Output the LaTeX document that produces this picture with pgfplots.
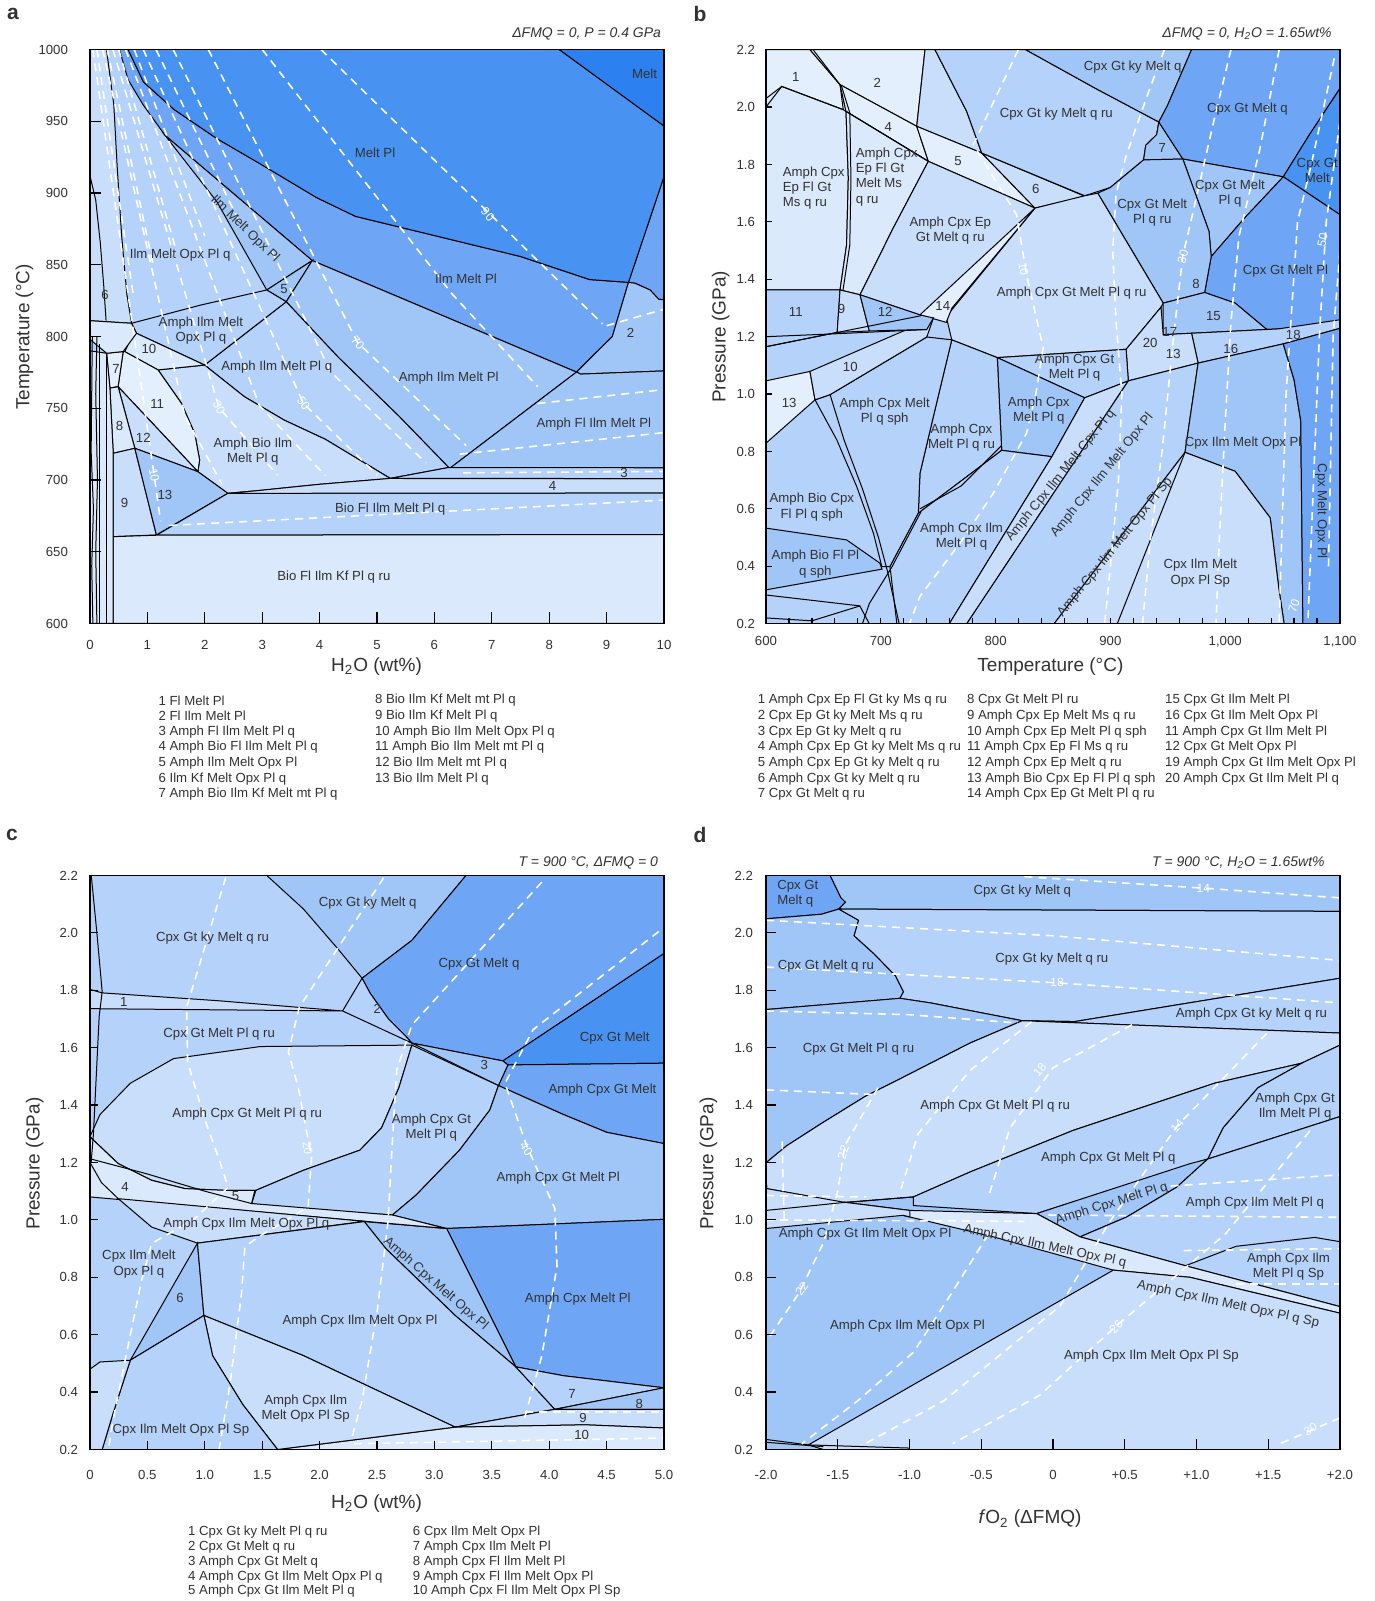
\documentclass[border=0pt]{standalone}
\usepackage{fontspec}
\setmainfont{Liberation Sans}
\usepackage{pgfplots}
\pgfplotsset{compat=1.18}

\definecolor{ca}{RGB}{228,239,253}
\definecolor{c1}{RGB}{218,233,252}
\definecolor{c2}{RGB}{200,222,251}
\definecolor{c3}{RGB}{180,210,250}
\definecolor{c4}{RGB}{160,198,248}
\definecolor{c5}{RGB}{110,166,245}
\definecolor{c6}{RGB}{72,146,242}
\definecolor{c7}{RGB}{45,128,240}
\definecolor{txt}{RGB}{50,50,50}

\newcommand{\lf}{\fontsize{6.6}{7.6}\selectfont}
\newcommand{\axl}{\fontsize{9.5}{11}\selectfont}
\tikzset{lab/.style={font=\lf, text=txt, inner sep=0pt, align=center},
  clab/.style={font=\fontsize{6}{7}\selectfont, text=white, inner sep=0.5pt},
  leg/.style={font=\lf, text=txt, anchor=west, inner sep=0pt}}

\newcommand{\R}[2]{\addplot[fill=#1,draw=black,line width=0.5pt] coordinates {#2} -- cycle;}
\newcommand{\Ln}[1]{\addplot[black,line width=0.5pt] coordinates {#1};}
\newcommand{\Ct}[1]{\addplot[white,line width=0.8pt,dash pattern=on 4pt off 3pt] coordinates {#1};}

\pgfplotsset{panel/.style={scale only axis, width=287pt, height=287pt, anchor=south west,
  axis on top, tick align=inside, xtick pos=left, ytick pos=left,
  axis line style={line width=0.75pt, black}, every tick/.style={black, line width=0.6pt},
  major tick length=4pt, minor tick length=3pt,
  tick label style={font=\lf, text=txt}, clip=true}}

\begin{document}
\begin{tikzpicture}
\useasboundingbox (0,0) rectangle (687.5pt,800.5pt);

%================ PANEL A =================
\begin{axis}[panel, at={(45pt,488.75pt)}, xmin=0, xmax=10, ymin=600, ymax=1000,
  xtick={0,1,2,3,4,5,6,7,8,9,10}, xticklabels={0,1,2,3,4,5,6,7,8,9,10},
  ytick={600,650,700,750,800,850,900,950,1000}, yticklabels={600,650,700,750,800,850,900,950,1000},
  yticklabel style={xshift=-7.5pt}, xticklabel style={yshift=-5pt}, major tick length=5.5pt]
\R{c3}{(0,600)(10,600)(10,1000)(0,1000)}
\R{c2}{(0,1000)(0.287,1000)(0.415,961.3)(0.475,917.4)(0.551,870.5)(0.642,829.4)(0.724,809.2)(0,811)}
\R{c5}{(0.513,1000)(0.664,1000)(0.93,977.4)(1.457,958.4)(2.211,937.9)(2.966,920.3)(3.947,896.8)(4.626,883.7)(5.985,870.5)(7.494,855.8)(8.702,839.7)(9.381,837.7)(9.1,800)(8.475,775.2)(3.872,852.9)(1.306,940.2)(0.928,961.3)(0.664,978.9)}
\R{c5}{(9.381,837.7)(10,911.5)(10,825.6)(9.909,825.9)(9.758,832.4)(9.494,837.1)}
\R{c6}{(0.664,1000)(8.174,1000)(10,946.7)(10,911.5)(9.381,837.7)(8.702,839.7)(7.494,855.8)(5.985,870.5)(4.626,883.7)(3.947,896.8)(2.966,920.3)(2.211,937.9)(1.457,958.4)(0.93,977.4)}
\R{c7}{(8.174,1000)(10,1000)(10,946.7)}
\R{c4}{(1.306,940.2)(3.872,852.9)(3.079,832.4)(2.211,893.9)}
\R{c4}{(3.079,832.4)(3.872,852.9)(3.419,824.2)}
\R{c4}{(9.381,837.7)(9.494,837.1)(9.758,832.4)(9.909,825.9)(10,825.6)(10,776)(8.55,773.8)(8.475,775.2)(9.1,800)}
\R{c4}{(3.872,852.9)(8.475,775.2)(6.287,708.7)(6.249,708.7)(5.381,744.5)(4.325,785.5)(3.419,824.2)}
\R{c4}{(8.475,775.2)(8.55,773.8)(10,776)(10,708.5)(6.287,708.7)}
\R{c3}{(1.997,780.1)(3.419,824.2)(4.325,785.5)(5.381,744.5)(6.249,708.7)(5.23,701.1)(4.098,728.4)(3.385,741.7)(2.691,758)}
\R{c3}{(0.724,809.2)(1.939,822)(3.079,832.4)(3.419,824.2)(1.997,780.1)(0.81,802.2)}
\R{c2}{(1.186,776.7)(1.997,780.1)(2.691,758)(3.385,741.7)(4.098,728.4)(5.23,701.1)(4.0,697)(2.9,692.5)(2.401,690.7)(1.88,705.8)(1.91,714)(1.823,732.6)(1.592,753.5)}
\R{c1}{(0.81,802.2)(1.997,780.1)(1.186,776.7)(0.608,789.4)(0.724,800)}
\R{ca}{(0.578,789.5)(0.608,789.4)(1.186,776.7)(1.592,753.5)(1.823,732.6)(1.91,714)(1.88,705.8)(0.49,765)}
\R{c2}{(0.49,765)(1.88,705.8)(0.781,722.1)}
\R{ca}{(0.29,788.3)(0.578,789.5)(0.49,765.2)(0.347,764)}
\R{c1}{(0.347,764)(0.49,765)(0.781,722.1)(0.405,718.6)}
\R{c2}{(0.405,718.6)(0.781,722.1)(1.157,661.7)(0.405,660.5)}
\R{c4}{(0.781,722.1)(1.88,705.8)(2.401,690.7)(1.157,661.7)}
\R{c3}{(1.157,661.5)(2.401,690.7)(10,691)(10,662)}
\R{c2}{(2.401,690.7)(10,691)(10,701)(5.6,701)(5.23,701.1)(4.0,697)(2.9,692.5)}
\R{c3}{(5.23,701.1)(6.249,708.7)(10,708.5)(10,701)}
\R{c1}{(0.405,600)(10,600)(10,662)(1.157,661.5)(0.405,660.5)}
\R{c1}{(0,600)(0.405,600)(0.405,718.6)(0.347,764)(0.29,788.3)(0,790)}
\R{c1}{(0,811)(0.724,809.2)(0.81,802.2)(0.578,789.5)(0.29,788.3)(0,798)}
\Ln{(0.174,600)(0.174,795)}
\Ln{(0.29,600)(0.29,788)}
\Ln{(0.05,600)(0.03,640)(0.06,680)(0.02,720)(0.04,800)}
\Ln{(0.12,600)(0.1,650)(0.13,700)(0.1,760)(0.12,800)}
\Ln{(0,912)(0.1,895)(0.18,865)(0.24,835)(0.28,811)}
% contours
\Ct{(4.023,1000)(8.928,808.9)}
\Ct{(3.0,1000)(6.3,830)(7.8,765)}
\Ct{(2.06,1000)(4.664,795.7)(6.551,724)}
\Ct{(1.45,1000)(4.2,775)(5.85,712)}
\Ct{(0.928,1000)(3.721,753.3)(5.004,703.4)}
\Ct{(0.62,1000)(2.95,752)(4.1,703)}
\Ct{(0.40,1000)(2.249,750.3)(3.268,703.4)}
\Ct{(0.22,1000)(1.65,745)(2.3,697)}
\Ct{(0.05,1000)(1.117,703.4)(1.23,671.2)}
\Ct{(0.12,1000)(0.75,830)}
\Ct{(0.3,1000)(1.1,850)}
\Ct{(0.5,1000)(1.5,860)}
\Ct{(0.77,1000)(2.0,870)}
\Ct{(1.15,1000)(2.6,880)}
\Ct{(9.0,807.5)(10,819)}
\Ct{(7.8,753.3)(10,763)}
\Ct{(6.44,718)(10,733)}
\Ct{(6.5,705)(10,706)}
\Ct{(1.381,668.3)(10,686)}
\node[clab,rotate=-50] at (axis cs:6.928,885.1) {90};
\node[clab,rotate=-50] at (axis cs:4.664,795.7) {70};
\node[clab,rotate=-55] at (axis cs:3.721,753.3) {50};
\node[clab,rotate=-62] at (axis cs:2.249,750.3) {30};
\node[clab,rotate=-80] at (axis cs:1.117,703.4) {10};
% labels
\node[lab] at (axis cs:9.66,983) {Melt};
\node[lab] at (axis cs:4.966,928.2) {Melt Pl};
\node[lab,rotate=-44] at (axis cs:2.70,874.9) {Ilm Melt Opx Pl};
\node[lab] at (axis cs:1.57,856.7) {Ilm Melt Opx Pl q};
\node[lab] at (axis cs:3.381,833.3) {5};
\node[lab] at (axis cs:6.551,840.3) {Ilm Melt Pl};
\node[lab] at (axis cs:0.264,828.6) {6};
\node[lab] at (axis cs:1.932,804) {Amph Ilm Melt\\Opx Pl q};
\node[lab] at (axis cs:9.419,802.2) {2};
\node[lab] at (axis cs:1.026,791.4) {10};
\node[lab] at (axis cs:0.453,777.6) {7};
\node[lab] at (axis cs:3.253,779) {Amph Ilm Melt Pl q};
\node[lab] at (axis cs:6.249,770.8) {Amph Ilm Melt Pl};
\node[lab] at (axis cs:1.17,753.3) {11};
\node[lab] at (axis cs:8.777,739.2) {Amph Fl Ilm Melt Pl};
\node[lab] at (axis cs:0.513,737.7) {8};
\node[lab] at (axis cs:0.928,729.2) {12};
\node[lab] at (axis cs:2.838,720) {Amph Bio Ilm\\Melt Pl q};
\node[lab] at (axis cs:9.306,704.9) {3};
\node[lab] at (axis cs:8.06,696) {4};
\node[lab] at (axis cs:1.306,689.7) {13};
\node[lab] at (axis cs:0.604,683.8) {9};
\node[lab] at (axis cs:5.23,679.4) {Bio Fl Ilm Melt Pl q};
\node[lab] at (axis cs:4.249,632.2) {Bio Fl Ilm Kf Pl q ru};
\end{axis}

%================ PANEL B =================
\begin{axis}[panel, at={(383pt,488.65pt)}, xmin=600, xmax=1100, ymin=0.2, ymax=2.2,
  xtick={600,700,800,900,1000,1100}, xticklabels={600,700,800,900,{1,000},{1,100}},
  minor xtick={620,640,660,680,720,740,760,780,820,840,860,880,920,940,960,980,1020,1040,1060,1080},
  ytick={0.2,0.4,0.6,0.8,1.0,1.2,1.4,1.6,1.8,2.0,2.2},
  yticklabels={0.2,0.4,0.6,0.8,1.0,1.2,1.4,1.6,1.8,2.0,2.2},
  yticklabel style={xshift=-2pt}, xticklabel style={yshift=-3pt}, major tick length=3pt, minor tick length=3pt]
\R{c3}{(600,0.2)(1100,0.2)(1100,2.2)(600,2.2)}
\R{c1}{(600,2.2)(638.3,2.2)(664.5,2.078)(669.7,1.985)(671.7,1.753)(670.2,1.52)(664.5,1.363)(600,1.363)}
\R{ca}{(600,2.2)(638.3,2.2)(664.5,2.078)(667.3,1.991)(613.7,2.072)(600,2.03)}
\R{ca}{(638.3,2.2)(738.5,2.2)(731.3,1.933)(664.5,2.078)}
\R{ca}{(664.5,2.078)(731.3,1.933)(741.4,1.811)(669.7,1.985)}
\R{c1}{(669.7,1.985)(741.4,1.811)(710.9,1.579)(681.9,1.346)(664.5,1.363)(670.2,1.52)(671.7,1.753)}
\R{c2}{(738.5,2.2)(747.2,2.2)(774.8,1.985)(787.9,1.84)(731.3,1.933)}
\R{ca}{(731.3,1.933)(787.9,1.84)(834.3,1.648)(741.4,1.811)}
\R{c2}{(787.9,1.84)(877.9,1.689)(834.3,1.648)}
\R{c2}{(741.4,1.811)(834.3,1.648)(757,1.27)(734.1,1.276)(681.9,1.346)(710.9,1.579)}
\R{c3}{(747.2,2.2)(826.2,2.2)(887.1,2.065)(942.2,1.948)(940.3,1.904)(930.8,1.867)(928.9,1.816)(900,1.72)(877.6,1.691)(787.9,1.84)(774.8,1.985)}
\R{c4}{(826.2,2.2)(970.7,2.2)(949.8,2.006)(942.2,1.948)(887.1,2.065)}
\R{c4}{(942.2,1.948)(963.1,1.819)(928.9,1.816)(930.8,1.867)(940.3,1.904)}
\R{c5}{(970.7,2.2)(1100,2.2)(1100,2.065)(1073.4,1.904)(1050.6,1.757)(963.1,1.819)(942.2,1.948)(949.8,2.006)}
\R{c6}{(1100,2.065)(1100,1.625)(1050.6,1.757)(1073.4,1.904)}
\R{c4}{(963.1,1.819)(1050.6,1.757)(1016.3,1.611)(987.8,1.479)(985.9,1.567)}
\R{c5}{(1050.6,1.757)(1100,1.625)(1100,1.229)(1050.6,1.171)(1039.2,1.215)(1008.7,1.317)(982.1,1.354)(987.8,1.479)(1016.3,1.611)}
\R{c4}{(889,1.70)(900,1.72)(928.9,1.816)(963.1,1.819)(985.9,1.567)(987.8,1.479)(982.1,1.354)(946,1.317)}
\R{c2}{(834.3,1.648)(877.6,1.691)(889,1.70)(946,1.317)(944.1,1.303)(913.7,1.156)(801.5,1.127)(761.8,1.189)(757,1.27)}
\R{ca}{(834.3,1.648)(762,1.30)(757,1.25)(734.1,1.276)}
\R{c4}{(946,1.317)(982.1,1.354)(1008.7,1.317)(1039.2,1.215)(1046,1.227)(946,1.207)}
\R{c3}{(970.7,1.212)(1046,1.227)(1100,1.259)(1100,1.229)(1050.6,1.175)(976.4,1.108)}
\R{c2}{(946,1.207)(970.7,1.212)(976.4,1.108)(915.6,1.046)(913.7,1.156)(944.1,1.303)}
\R{c3}{(801.5,1.127)(913.7,1.156)(915.6,1.046)(877.6,0.987)}
\R{c4}{(801.5,1.127)(877.6,0.987)(849,0.782)(805.3,0.804)}
\R{c3}{(761.8,1.189)(801.5,1.127)(805.3,0.804)(732.7,0.585)(734.1,0.724)(745.8,0.922)}
\R{c3}{(642.7,0.98)(655.8,0.998)(740.1,1.199)(761.8,1.189)(745.8,0.922)(734.1,0.724)(732.7,0.585)(708,0.399)(700.9,0.399)(693.6,0.515)(679,0.678)(661.6,0.841)}
\R{c3}{(708,0.399)(732.7,0.585)(805.3,0.804)(849,0.782)(759.7,0.2)(714,0.2)}
\R{c2}{(759.7,0.2)(849,0.782)(877.6,0.987)(915.6,1.046)(774.9,0.2)}
\R{c3}{(774.9,0.2)(915.6,1.046)(976.4,1.108)(965,0.797)(851,0.2)}
\R{c4}{(965,0.797)(976.4,1.108)(1050.6,1.175)(1060,1.05)(1065.8,0.907)(1067.7,0.2)(1051.3,0.2)(1046.8,0.32)(1039.2,0.569)(1008.7,0.731)}
\R{c5}{(1050.6,1.175)(1100,1.229)(1100,0.2)(1067.7,0.2)(1065.8,0.907)(1060,1.05)}
\R{c2}{(851,0.2)(965,0.797)(1008.7,0.731)(1039.2,0.569)(1046.8,0.32)(1051.3,0.2)}
\Ln{(965,0.797)(906,0.2)}
\R{ca}{(600,1.046)(638.3,1.079)(642.7,0.98)(600,0.829)}
\R{c2}{(638.3,1.079)(745.8,1.265)(740.1,1.199)(655.8,0.998)(642.7,0.98)}
\R{c3}{(600,1.363)(664.5,1.363)(662,1.215)(600,1.165)}
\R{c2}{(664.5,1.363)(681.9,1.346)(690,1.22)(662,1.215)}
\R{c4}{(681.9,1.346)(734.1,1.276)(745.8,1.265)(740,1.225)(690,1.22)}
\R{c4}{(600,0.533)(670.2,0.492)(699.2,0.411)(701,0.39)(600,0.318)}
\Ln{(600,0.3)(681.7,0.262)(690,0.2)}
\Ln{(600,0.22)(640,0.21)(682,0.262)}
\Ln{(600,2.0)(613.7,2.072)(667.3,1.991)(741.4,1.811)}
\Ln{(641,2.2)(666,2.07)(673,1.98)(674,1.75)(673,1.52)(667,1.36)}
\Ln{(655.8,0.998)(668,0.84)(684,0.67)(698,0.5)(706,0.38)(716,0.2)}
\Ln{(600,1.2)(660,1.21)(740,1.225)}
\Ln{(600,1.165)(735,1.273)}
\Ln{(735,0.59)(710,0.40)(690,0.27)(684,0.2)}
\Ln{(734,0.60)(770,0.68)(805,0.82)}
% contours
\Ct{(819.8,2.2)(780.6,1.869)(818.3,1.625)(827,1.415)(841.5,1.16)(835,1.0)(827,0.864)(798,0.655)(769,0.481)(734,0.295)(725,0.2)}
\Ct{(947,2.2)(933,2.05)(913.7,1.83)(905,1.7)(902,1.5)(905,1.25)(910,1.0)(907,0.7)(900,0.4)(895,0.2)}
\Ct{(1005,2.2)(990,1.95)(970,1.6)(963,1.48)(955,1.2)(945,0.8)(935,0.5)(928,0.2)}
\Ct{(1047,2.2)(1030,1.85)(1012,1.55)(1005,1.25)(1000,0.9)(995,0.5)(992,0.2)}
\Ct{(1095,2.17)(1075,1.8)(1063,1.6)(1058,1.3)(1053,1.0)(1050,0.6)(1047,0.2)}
\Ct{(1100,1.95)(1088,1.6)(1082,1.2)(1078,0.8)(1074,0.4)(1072,0.2)}
\Ct{(1100,1.5)(1094,1.2)(1092,0.8)(1090,0.4)}
\node[clab,rotate=-80] at (axis cs:824.3,1.435) {10};
\node[clab,rotate=75] at (axis cs:963.1,1.479) {30};
\node[clab,rotate=80] at (axis cs:1084.8,1.537) {50};
\node[clab,rotate=70] at (axis cs:1060,0.262) {70};
% labels
\node[lab] at (axis cs:625.9,2.106) {1};
\node[lab] at (axis cs:697,2.083) {2};
\node[lab] at (axis cs:919.4,2.138) {Cpx Gt ky Melt q};
\node[lab] at (axis cs:852.9,1.974) {Cpx Gt ky Melt q ru};
\node[lab] at (axis cs:1019.4,1.992) {Cpx Gt Melt q};
\node[lab] at (axis cs:706.5,1.930) {4};
\node[lab] at (axis cs:945.2,1.857) {7};
\node[lab] at (axis cs:767.3,1.811) {5};
\node[lab,align=left,anchor=west] at (axis cs:614.4,1.718) {Amph Cpx\\Ep Fl Gt\\Ms q ru};
\node[lab,align=left,anchor=west] at (axis cs:677.9,1.757) {Amph Cpx\\Ep Fl Gt\\Melt Ms\\q ru};
\node[lab] at (axis cs:1080.2,1.779) {Cpx Gt\\Melt};
\node[lab] at (axis cs:835,1.713) {6};
\node[lab] at (axis cs:1004.2,1.698) {Cpx Gt Melt\\Pl q};
\node[lab] at (axis cs:936.5,1.633) {Cpx Gt Melt\\Pl q ru};
\node[lab] at (axis cs:760.5,1.569) {Amph Cpx Ep\\Gt Melt q ru};
\node[lab] at (axis cs:1052.5,1.427) {Cpx Gt Melt Pl};
\node[lab] at (axis cs:974.5,1.383) {8};
\node[lab] at (axis cs:866.2,1.351) {Amph Cpx Gt Melt Pl q ru};
\node[lab] at (axis cs:625.9,1.285) {11};
\node[lab] at (axis cs:665.8,1.295) {9};
\node[lab] at (axis cs:703.8,1.288) {12};
\node[lab] at (axis cs:754,1.306) {14};
\node[lab] at (axis cs:989.7,1.273) {15};
\node[lab] at (axis cs:951.7,1.218) {17};
\node[lab] at (axis cs:1059.3,1.207) {18};
\node[lab] at (axis cs:934.6,1.178) {20};
\node[lab] at (axis cs:1004.9,1.156) {16};
\node[lab] at (axis cs:954.8,1.141) {13};
\node[lab] at (axis cs:620.2,0.968) {13};
\node[lab] at (axis cs:673.4,1.094) {10};
\node[lab] at (axis cs:868.8,1.093) {Amph Cpx Gt\\Melt Pl q};
\node[lab] at (axis cs:703.4,0.939) {Amph Cpx Melt\\Pl q sph};
\node[lab] at (axis cs:837.6,0.943) {Amph Cpx\\Melt Pl q};
\node[lab] at (axis cs:770.3,0.848) {Amph Cpx\\Melt Pl q ru};
\node[lab] at (axis cs:1015.6,0.830) {Cpx Ilm Melt Opx Pl};
\node[lab,rotate=-90] at (axis cs:1083.7,0.592) {Cpx Melt Opx Pl};
\node[lab] at (axis cs:639.9,0.606) {Amph Bio Cpx\\Fl Pl q sph};
\node[lab,rotate=51] at (axis cs:856.7,0.716) {Amph Cpx Ilm Melt Cpx Pl q};
\node[lab,rotate=51] at (axis cs:892.8,0.716) {Amph Cpx Ilm Melt Opx Pl};
\node[lab] at (axis cs:770.3,0.503) {Amph Cpx Ilm\\Melt Pl q};
\node[lab,rotate=51] at (axis cs:904.2,0.467) {Amph Cpx Ilm Melt Opx Pl Sp};
\node[lab] at (axis cs:643,0.408) {Amph Bio Fl Pl\\q sph};
\node[lab] at (axis cs:978.3,0.376) {Cpx Ilm Melt\\Opx Pl Sp};
\end{axis}

%================ PANEL C =================
\begin{axis}[panel, at={(45pt,75.75pt)}, xmin=0, xmax=5, ymin=0.2, ymax=2.2,
  xtick={0,0.5,1,1.5,2,2.5,3,3.5,4,4.5,5}, xticklabels={0,0.5,1.0,1.5,2.0,2.5,3.0,3.5,4.0,4.5,5.0},
  ytick={0.2,0.4,0.6,0.8,1.0,1.2,1.4,1.6,1.8,2.0,2.2},
  yticklabels={0.2,0.4,0.6,0.8,1.0,1.2,1.4,1.6,1.8,2.0,2.2},
  yticklabel style={xshift=-2.5pt}, xticklabel style={yshift=-7pt}]
\R{c3}{(0,0.2)(5,0.2)(5,2.2)(0,2.2)}
\R{c4}{(1.54,2.2)(3.275,2.2)(2.804,1.974)(2.37,1.842)(2.162,1.943)(1.86,2.083)}
\R{c5}{(3.275,2.2)(5,2.2)(5,1.928)(3.596,1.554)(2.804,1.616)(2.75,1.64)(2.6,1.70)(2.44,1.79)(2.37,1.842)(2.804,1.974)}
\R{c3}{(2.2,1.728)(2.37,1.842)(2.44,1.79)(2.6,1.70)(2.75,1.64)(2.804,1.616)}
\R{c6}{(3.596,1.554)(5,1.928)(5,1.546)(3.64,1.54)}
\R{c5}{(3.64,1.54)(5,1.546)(5,1.266)(4.502,1.305)(4.125,1.367)(3.558,1.468)}
\R{c4}{(2.804,1.616)(3.596,1.554)(3.64,1.54)(3.558,1.468)}
\R{c2}{(0,1.803)(0.106,1.791)(1.106,1.764)(2.2,1.728)(0,1.736)}
\R{c2}{(0,1.29)(0.087,1.367)(0.351,1.476)(0.728,1.562)(1.483,1.604)(2.804,1.609)(2.691,1.461)(2.54,1.321)(2.351,1.243)(1.86,1.173)(1.445,1.103)(1.175,1.103)(0.827,1.109)(0.537,1.138)(0.246,1.196)}
\R{c3}{(2.804,1.609)(3.558,1.468)(3.483,1.383)(3.219,1.243)(2.842,1.087)(2.634,1.017)(2.049,1.033)(1.408,1.056)(1.445,1.103)(1.86,1.173)(2.351,1.243)(2.54,1.321)(2.691,1.461)}
\R{c4}{(3.558,1.468)(4.125,1.367)(4.502,1.305)(5,1.266)(5,1.002)(3.106,0.97)(2.634,1.017)(2.842,1.087)(3.219,1.243)(3.483,1.383)}
\R{c5}{(3.106,0.97)(5,1.002)(5,0.415)(4.125,0.457)(3.709,0.488)}
\R{c4}{(2.389,0.994)(3.106,0.97)(3.709,0.488)(3.181,0.667)(2.577,0.9)}
\R{c1}{(0,1.289)(0.246,1.196)(0.537,1.138)(0.827,1.109)(1.175,1.103)(1.436,1.103)(1.407,1.057)(2.634,1.017)(3.106,0.97)(0,1.08)}
\Ln{(0,1.213)(0.5,1.16)(1.0,1.1)(1.407,1.057)}
\R{c2}{(0.246,1.074)(2.389,0.995)(0.936,0.919)(0.537,0.975)}
\Ln{(0,1.2)(0.1,1.13)(0.246,1.074)}
\R{c4}{(0.351,0.511)(0.936,0.919)(0.992,0.667)}
\R{c3}{(0.936,0.919)(2.389,0.994)(2.577,0.9)(3.181,0.667)(3.709,0.488)(4.049,0.34)(3.181,0.278)(1.86,0.527)(0.992,0.667)}
\R{c3}{(3.709,0.488)(4.125,0.457)(5,0.415)(4.049,0.34)}
\R{c4}{(4.049,0.34)(5,0.415)(5,0.34)}
\R{c2}{(3.181,0.278)(4.049,0.34)(5,0.34)(5,0.275)(4.313,0.286)}
\R{c1}{(1.634,0.2)(3.181,0.278)(4.313,0.286)(5,0.275)(5,0.2)}
\R{c2}{(0.992,0.667)(1.86,0.527)(3.181,0.278)(1.634,0.2)(1.332,0.356)(1.068,0.527)}
\R{c3}{(0.351,0.511)(0.992,0.667)(1.068,0.527)(1.332,0.356)(1.634,0.2)(0.106,0.2)(0.2,0.325)}
\R{c2}{(0,0.48)(0.087,0.505)(0.351,0.511)(0.2,0.325)(0.106,0.2)(0,0.2)}
\Ln{(0.011,2.2)(0.06,2.0)(0.106,1.795)(0.08,1.71)(0.03,1.3)(0.01,1.2)}
% contours
\Ct{(1.181,2.192)(0.842,1.741)(0.85,1.55)(1.0,1.35)(1.117,1.219)(1.204,1.114)(0.9,1.0)(0.537,0.918)(0.45,0.79)(0.3,0.5)(0.2,0.3)(0.16,0.2)}
\Ct{(2.558,2.192)(1.823,1.741)(1.728,1.585)(1.813,1.463)(1.93,1.219)(1.9,1.045)(1.465,0.94)(1.349,0.906)(1.32,0.744)(1.22,0.43)(1.125,0.2)}
\Ct{(3.936,2.177)(2.804,1.679)(2.672,1.523)(2.634,1.274)(2.596,0.994)(2.502,0.683)(2.37,0.371)(2.275,0.231)}
\Ct{(4.955,2.005)(3.86,1.663)(3.615,1.476)(3.804,1.258)(4.049,1.04)(4.068,0.838)(3.936,0.527)(3.785,0.309)}
\Ct{(3.785,0.33)(5,0.33)}
\Ct{(2.3,0.22)(5,0.24)}
\node[clab,rotate=-80] at (axis cs:1.896,1.25) {20};
\node[clab,rotate=-55] at (axis cs:3.8,1.247) {40};
% labels
\node[lab] at (axis cs:2.419,2.103) {Cpx Gt ky Melt q};
\node[lab] at (axis cs:1.068,1.981) {Cpx Gt ky Melt q ru};
\node[lab] at (axis cs:3.389,1.892) {Cpx Gt Melt q};
\node[lab] at (axis cs:0.294,1.760) {1};
\node[lab] at (axis cs:2.502,1.736) {2};
\node[lab] at (axis cs:1.125,1.647) {Cpx Gt Melt Pl q ru};
\node[lab] at (axis cs:4.57,1.632) {Cpx Gt Melt};
\node[lab] at (axis cs:3.434,1.539) {3};
\node[lab] at (axis cs:4.464,1.453) {Amph Cpx Gt Melt};
\node[lab] at (axis cs:1.370,1.370) {Amph Cpx Gt Melt Pl q ru};
\node[lab] at (axis cs:2.974,1.321) {Amph Cpx Gt\\Melt Pl q};
\node[lab] at (axis cs:4.079,1.146) {Amph Cpx Gt Melt Pl};
\node[lab] at (axis cs:0.306,1.114) {4};
\node[lab] at (axis cs:1.268,1.082) {5};
\node[lab] at (axis cs:1.362,0.984) {Amph Cpx Ilm Melt Opx Pl q};
\node[lab] at (axis cs:0.426,0.846) {Cpx Ilm Melt\\Opx Pl q};
\node[lab,rotate=-41] at (axis cs:3.011,0.776) {Amph Cpx Melt Opx Pl};
\node[lab] at (axis cs:0.785,0.729) {6};
\node[lab] at (axis cs:4.249,0.725) {Amph Cpx Melt Pl};
\node[lab] at (axis cs:2.351,0.648) {Amph Cpx Ilm Melt Opx Pl};
\node[lab] at (axis cs:4.2,0.395) {7};
\node[lab] at (axis cs:4.785,0.360) {8};
\node[lab] at (axis cs:1.879,0.343) {Amph Cpx Ilm\\Melt Opx Pl Sp};
\node[lab] at (axis cs:4.294,0.309) {9};
\node[lab] at (axis cs:4.283,0.251) {10};
\node[lab] at (axis cs:0.792,0.267) {Cpx Ilm Melt Opx Pl Sp};
\end{axis}

%================ PANEL D =================
\begin{axis}[panel, at={(383pt,75.75pt)}, xmin=-2, xmax=2, ymin=0.2, ymax=2.2,
  xtick={-2,-1.5,-1,-0.5,0,0.5,1,1.5,2}, xticklabels={-2.0,-1.5,-1.0,-0.5,0,+0.5,+1.0,+1.5,+2.0},
  ytick={0.2,0.4,0.6,0.8,1.0,1.2,1.4,1.6,1.8,2.0,2.2},
  yticklabels={0.2,0.4,0.6,0.8,1.0,1.2,1.4,1.6,1.8,2.0,2.2},
  yticklabel style={xshift=-3pt}, xticklabel style={yshift=-7pt}, major tick length=5pt]
\R{c4}{(-2,0.2)(2,0.2)(2,2.2)(-2,2.2)}
\R{c5}{(-2,2.2)(-1.553,2.2)(-1.477,2.122)(-1.446,2.107)(-1.492,2.083)(-1.614,2.065)(-2,2.049)}
\R{c4}{(-1.553,2.2)(2,2.2)(2,2.075)(-1.492,2.083)(-1.446,2.107)(-1.477,2.122)}
\R{c4}{(-2,2.049)(-1.614,2.065)(-1.492,2.083)(-1.355,2.044)(-1.386,1.99)(-1.249,1.928)(-1.097,1.85)(-1.042,1.795)(-1.066,1.772)(-2,1.733)}
\R{c3}{(-1.492,2.083)(2,2.075)(2,1.842)(0.151,1.691)(-0.214,1.694)(-0.853,1.756)(-1.066,1.772)(-1.042,1.795)(-1.097,1.85)(-1.249,1.928)(-1.386,1.99)(-1.355,2.044)}
\R{c3}{(0.151,1.691)(2,1.842)(2,1.651)(-0.214,1.694)}
\R{c4}{(-2,1.733)(-1.066,1.772)(-0.853,1.756)(-0.214,1.694)(-0.579,1.616)(-1.005,1.507)(-1.31,1.43)(-1.614,1.336)(-1.857,1.258)(-2,1.199)}
\R{c2}{(-0.214,1.694)(2,1.651)(2,1.609)(1.732,1.546)(1.124,1.476)(0.141,1.312)(-0.578,1.167)(-0.973,1.08)(-1.47,1.06)(-1.995,1.109)(-2,1.15)(-2,1.199)(-1.857,1.258)(-1.614,1.336)(-1.31,1.43)(-1.005,1.507)(-0.579,1.616)}
\R{c3}{(1.732,1.546)(2,1.609)(2,1.36)(1.078,1.212)(1.185,1.321)(1.428,1.461)}
\R{c3}{(-0.973,1.08)(-0.578,1.167)(0.141,1.312)(1.124,1.476)(1.732,1.546)(1.428,1.461)(1.185,1.321)(1.078,1.212)(-0.114,1.022)(-0.973,1.05)}
\R{c4}{(-0.114,1.022)(0.955,1.196)(1.078,1.212)(0.862,1.114)(0.513,1.01)(0.188,0.941)}
\R{c3}{(1.078,1.212)(2,1.36)(2,0.698)(0.955,0.836)(0.188,0.941)(0.513,1.01)(0.862,1.114)}
\Ln{(0.911,0.838)(1.276,0.908)(1.824,0.939)(2,0.924)}
\R{c1}{(-1.461,1.062)(-0.997,1.033)(-0.114,1.022)(0.188,0.941)(0.955,0.836)(2,0.698)(2,0.675)(0.955,0.80)(0.42,0.825)(-0.416,0.941)(-0.997,1.01)}
\R{c2}{(-2,1.15)(-1.995,1.109)(-1.461,1.062)(-0.997,1.033)(-0.997,1.01)(-1.043,1.016)(-2,0.97)}
\Ln{(-2,1.033)(-1.47,1.06)(-0.973,1.08)}
\Ln{(-0.973,1.08)(-0.973,1.05)}
\R{c2}{(0.42,0.825)(0.955,0.80)(2,0.675)(2,0.2)(-1.6,0.2)(-1.705,0.216)}
\Ln{(-2,0.235)(-1.705,0.216)(-1.0,0.205)}
\Ln{(-2,0.225)(-1.6,0.21)}
% contours
\Ct{(-0.2,2.196)(1.048,2.156)(2,2.122)}
\Ct{(-2,2.044)(0,1.99)(2,1.904)}
\Ct{(-2,1.881)(0.029,1.826)(2,1.756)}
\Ct{(-2,1.728)(-1,1.715)(-0.245,1.686)}
\Ct{(-2,1.453)(-1.249,1.437)}
\Ct{(0.82,1.118)(2,1.157)}
\Ct{(-0.032,1.017)(2,1.009)}
\Ct{(0.911,0.893)(2,0.90)}
\Ct{(1.276,0.776)(2,0.776)}
\Ct{(-2,1.0)(-0.2,0.995)}
\Ct{(-2,1.085)(-1.3,1.08)}
\Ct{(-1.22,1.46)(-1.45,1.26)(-1.50,1.10)(-1.60,0.92)(-1.77,0.745)(-1.98,0.59)}
\Ct{(-1.887,1.274)(-1.88,1.1)(-1.872,0.994)}
\Ct{(-0.15,1.69)(-0.58,1.52)(-0.94,1.30)(-1.07,1.09)}
\Ct{(-0.45,0.95)(-0.70,0.75)(-0.97,0.54)(-1.36,0.37)(-1.75,0.22)}
\Ct{(0.55,1.68)(0.0,1.53)(-0.3,1.32)(-0.45,1.08)}
\Ct{(1.49,1.65)(0.87,1.33)(0.39,0.99)(0.05,0.70)(-0.76,0.37)(-1.31,0.22)}
\Ct{(1.79,1.31)(1.2,0.95)(0.44,0.63)(-0.09,0.39)(-0.70,0.22)}
\Ct{(2,0.31)(1.58,0.22)}
\node[clab] at (axis cs:1.048,2.156) {14};
\node[clab] at (axis cs:0.029,1.826) {18};
\node[clab,rotate=50] at (axis cs:-0.093,1.523) {18};
\node[clab,rotate=70] at (axis cs:-1.462,1.235) {22};
\node[clab,rotate=55] at (axis cs:-1.751,0.760) {22};
\node[clab,rotate=50] at (axis cs:0.865,1.328) {14};
\node[clab,rotate=45] at (axis cs:0.44,0.628) {26};
\node[clab,rotate=30] at (axis cs:1.793,0.27) {30};
% labels
\node[lab,align=left,anchor=west] at (axis cs:-1.924,2.135) {Cpx Gt\\Melt q};
\node[lab] at (axis cs:-0.214,2.146) {Cpx Gt ky Melt q};
\node[lab] at (axis cs:-0.008,1.907) {Cpx Gt ky Melt q ru};
\node[lab] at (axis cs:-1.583,1.884) {Cpx Gt Melt q ru};
\node[lab] at (axis cs:1.383,1.718) {Amph Cpx Gt ky Melt q ru};
\node[lab] at (axis cs:-1.355,1.596) {Cpx Gt Melt Pl q ru};
\node[lab] at (axis cs:-0.403,1.395) {Amph Cpx Gt Melt Pl q ru};
\node[lab] at (axis cs:1.687,1.395) {Amph Cpx Gt\\Ilm Melt Pl q};
\node[lab] at (axis cs:0.385,1.215) {Amph Cpx Gt Melt Pl q};
\node[lab,rotate=17] at (axis cs:0.409,1.056) {Amph Cpx Melt Pl q};
\node[lab] at (axis cs:1.407,1.059) {Amph Cpx Ilm Melt Pl q};
\node[lab] at (axis cs:-1.31,0.95) {Amph Cpx Gt Ilm Melt Opx Pl};
\node[lab,rotate=-12] at (axis cs:-0.056,0.908) {Amph Cpx Ilm Melt Opx Pl q};
\node[lab] at (axis cs:1.641,0.838) {Amph Cpx Ilm\\Melt Pl q Sp};
\node[lab,rotate=-12] at (axis cs:1.221,0.706) {Amph Cpx Ilm Melt Opx Pl q Sp};
\node[lab] at (axis cs:-1.014,0.631) {Amph Cpx Ilm Melt Opx Pl};
\node[lab] at (axis cs:0.686,0.527) {Amph Cpx Ilm Melt Opx Pl Sp};
\end{axis}

%================ TEXT OUTSIDE AXES =================
\node[font=\fontsize{10.5}{12}\selectfont\bfseries, text=txt] at (6.5pt,793.5pt) {a};
\node[font=\fontsize{10.5}{12}\selectfont\bfseries, text=txt] at (350pt,793.5pt) {b};
\node[font=\fontsize{10.5}{12}\selectfont\bfseries, text=txt] at (6pt,383pt) {c};
\node[font=\fontsize{10.5}{12}\selectfont\bfseries, text=txt] at (350pt,383pt) {d};
\node[font=\fontsize{7}{8}\selectfont\itshape, text=txt, anchor=east, inner sep=0pt] at (330.7pt,783.6pt) {ΔFMQ = 0, P = 0.4 GPa};
\node[font=\fontsize{7}{8}\selectfont\itshape, text=txt, anchor=east, inner sep=0pt] at (666pt,783.6pt) {ΔFMQ = 0, H\textsubscript{2}O = 1.65wt\%};
\node[font=\fontsize{7}{8}\selectfont\itshape, text=txt, anchor=east, inner sep=0pt] at (329.2pt,369.2pt) {T = 900 °C, ΔFMQ = 0};
\node[font=\fontsize{7}{8}\selectfont\itshape, text=txt, anchor=east, inner sep=0pt] at (662.5pt,369.2pt) {T = 900 °C, H\textsubscript{2}O = 1.65wt\%};

\node[font=\axl, text=txt] at (188.3pt,467.2pt) {H\textsubscript{2}O (wt\%)};
\node[font=\axl, text=txt, rotate=90] at (12.25pt,632pt) {Temperature (°C)};
\node[font=\axl, text=txt] at (525.2pt,467.2pt) {Temperature (°C)};
\node[font=\axl, text=txt, rotate=90] at (360.4pt,632pt) {Pressure (GPa)};
\node[font=\axl, text=txt] at (188.3pt,48.7pt) {H\textsubscript{2}O (wt\%)};
\node[font=\axl, text=txt, rotate=90] at (17.4pt,218.7pt) {Pressure (GPa)};
\node[font=\axl, text=txt] at (515pt,41pt) {\textit{f}O\textsubscript{2} (ΔFMQ)};
\node[font=\axl, text=txt, rotate=90] at (354.2pt,218.7pt) {Pressure (GPa)};

% legend a
\foreach \t [count=\i from 0] in {1 Fl Melt Pl, 2 Fl Ilm Melt Pl, 3 Amph Fl Ilm Melt Pl q, 4 Amph Bio Fl Ilm Melt Pl q, 5 Amph Ilm Melt Opx Pl, 6 Ilm Kf Melt Opx Pl q, 7 Amph Bio Ilm Kf Melt mt Pl q}
  \node[leg] at (79.1pt,450.35pt-\i*7.83pt) {\t};
\foreach \t [count=\i from 0] in {8 Bio Ilm Kf Melt mt Pl q, 9 Bio Ilm Kf Melt Pl q, 10 Amph Bio Ilm Melt Opx Pl q, 11 Amph Bio Ilm Melt mt Pl q, 12 Bio Ilm Melt mt Pl q, 13 Bio Ilm Melt Pl q}
  \node[leg] at (187.3pt,450.35pt-\i*7.83pt) {\t};
% legend b
\foreach \t [count=\i from 0] in {1 Amph Cpx Ep Fl Gt ky Ms q ru, 2 Cpx Ep Gt ky Melt Ms q ru, 3 Cpx Ep Gt ky Melt q ru, 4 Amph Cpx Ep Gt ky Melt Ms q ru, 5 Amph Cpx Ep Gt ky Melt q ru, 6 Amph Cpx Gt ky Melt q ru, 7 Cpx Gt Melt q ru}
  \node[leg] at (378.7pt,450.35pt-\i*7.83pt) {\t};
\foreach \t [count=\i from 0] in {8 Cpx Gt Melt Pl ru, 9 Amph Cpx Ep Melt Ms q ru, 10 Amph Cpx Ep Melt Pl q sph, 11 Amph Cpx Ep Fl Ms q ru, 12 Amph Cpx Ep Melt q ru, 13 Amph Bio Cpx Ep Fl Pl q sph, 14 Amph Cpx Ep Gt Melt Pl q ru}
  \node[leg] at (483.3pt,450.35pt-\i*7.83pt) {\t};
\foreach \t [count=\i from 0] in {15 Cpx Gt Ilm Melt Pl, 16 Cpx Gt Ilm Melt Opx Pl, 11 Amph Cpx Gt Ilm Melt Pl, 12 Cpx Gt Melt Opx Pl, 19 Amph Cpx Gt Ilm Melt Opx Pl, 20 Amph Cpx Gt Ilm Melt Pl q}
  \node[leg] at (582.4pt,450.35pt-\i*7.83pt) {\t};
% legend c
\foreach \t [count=\i from 0] in {1 Cpx Gt ky Melt Pl q ru, 2 Cpx Gt Melt q ru, 3 Amph Cpx Gt Melt q, 4 Amph Cpx Gt Ilm Melt Opx Pl q, 5 Amph Cpx Gt Ilm Melt Pl q}
  \node[leg] at (93.9pt,34.4pt-\i*7.4pt) {\t};
\foreach \t [count=\i from 0] in {6 Cpx Ilm Melt Opx Pl, 7 Amph Cpx Ilm Melt Pl, 8 Amph Cpx Fl Ilm Melt Pl, 9 Amph Cpx Fl Ilm Melt Opx Pl, 10 Amph Cpx Fl Ilm Melt Opx Pl Sp}
  \node[leg] at (206.2pt,34.4pt-\i*7.4pt) {\t};
\end{tikzpicture}
\end{document}
